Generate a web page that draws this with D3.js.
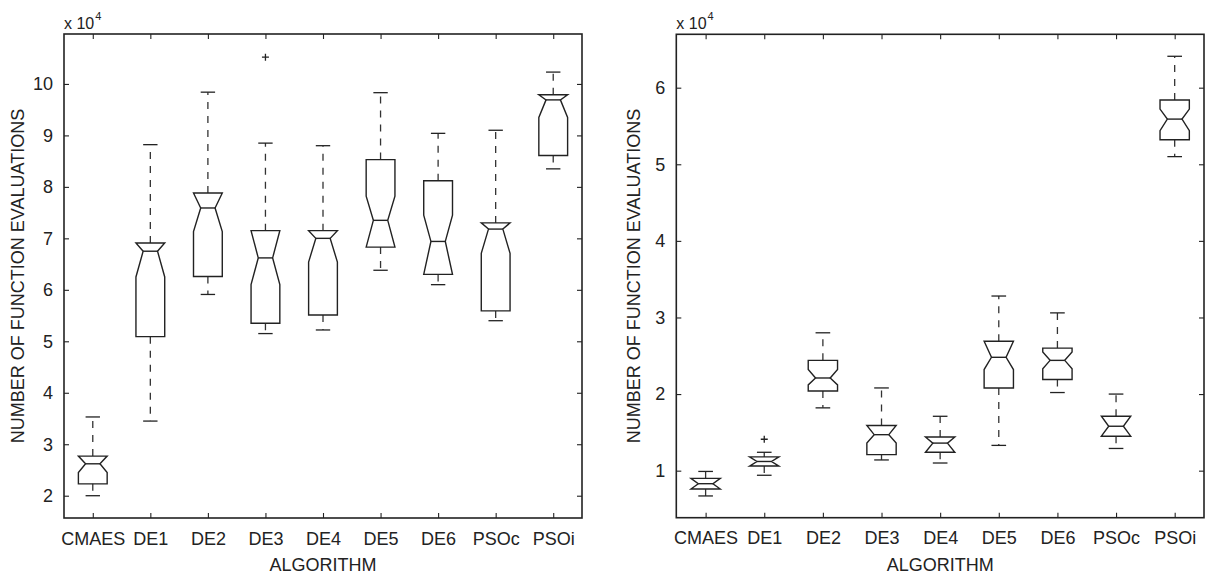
<!DOCTYPE html>
<html>
<head>
<meta charset="utf-8">
<script src="https://cdn.jsdelivr.net/npm/d3@7/dist/d3.min.js"></script>
<style>
  html, body { margin: 0; padding: 0; background: #fff; }
  svg { display: block; }
  text { font-family: "Liberation Sans", Arial, sans-serif; fill: #222; }
  .expo { font-size: 16px; }
  .expo .sup { font-size: 11px; }
</style>
</head>
<body>
<svg id="chart" width="1209" height="578"></svg>
<script>
// ---- Data (values in units of 10^4 function evaluations) ----
const categories = ["CMAES", "DE1", "DE2", "DE3", "DE4", "DE5", "DE6", "PSOc", "PSOi"];

// Left panel
const leftWhiskerLo = [2.00, 3.45, 5.91, 5.15, 5.22, 6.38, 6.10, 5.40, 8.35];
const leftQ1        = [2.23, 5.09, 6.26, 5.35, 5.51, 6.83, 6.30, 5.59, 8.61];
const leftNotchLo   = [2.45, 6.25, 7.13, 6.10, 6.54, 6.83, 6.30, 6.71, 9.35];
const leftMedian    = [2.62, 6.75, 7.59, 6.62, 7.00, 7.35, 6.94, 7.18, 9.69];
const leftNotchHi   = [2.77, 6.91, 7.88, 7.15, 7.15, 7.82, 7.45, 7.30, 9.79];
const leftQ3        = [2.77, 6.91, 7.88, 7.15, 7.15, 8.53, 8.12, 7.30, 9.79];
const leftWhiskerHi = [3.53, 8.82, 9.84, 8.85, 8.80, 9.83, 9.04, 9.10, 10.23];
const leftOutliers  = [[], [], [], [10.52], [], [], [], [], []];
const leftYTicks    = [2, 3, 4, 5, 6, 7, 8, 9, 10];

// Right panel
const rightWhiskerLo = [0.67, 0.94, 1.82, 1.14, 1.10, 1.33, 2.02, 1.29, 5.10];
const rightQ1        = [0.76, 1.06, 2.04, 1.21, 1.24, 2.08, 2.19, 1.45, 5.32];
const rightNotchLo   = [0.76, 1.06, 2.12, 1.36, 1.24, 2.32, 2.33, 1.45, 5.44];
const rightMedian    = [0.83, 1.12, 2.21, 1.47, 1.36, 2.48, 2.44, 1.58, 5.59];
const rightNotchHi   = [0.90, 1.18, 2.32, 1.59, 1.44, 2.69, 2.55, 1.71, 5.72];
const rightQ3        = [0.90, 1.18, 2.44, 1.59, 1.44, 2.69, 2.60, 1.71, 5.84];
const rightWhiskerHi = [0.99, 1.24, 2.80, 2.08, 1.71, 3.28, 3.06, 2.00, 6.41];
const rightOutliers  = [[], [1.41], [], [], [], [], [], [], []];
const rightYTicks    = [1, 2, 3, 4, 5, 6];

const yLabel = "NUMBER OF FUNCTION EVALUATIONS";
const xLabel = "ALGORITHM";

// ---- Drawing ----
const svg = d3.select("#chart");
svg.append("rect").attr("width", 1209).attr("height", 578).attr("fill", "#fff");

function panel(cfg) {
  const g = svg.append("g");
  const x = d3.scaleLinear().domain([0.5, 9.5]).range([cfg.left, cfg.right]);
  const y = d3.scaleLinear().domain(cfg.yDomain).range([cfg.bottom, cfg.top]);
  const idx = d3.range(1, categories.length + 1);
  const ink = "#222";

  // axes with inward ticks
  const fs = "18px";
  const ax = g.append("g").attr("transform", `translate(0,${cfg.bottom})`)
    .call(d3.axisBottom(x).tickValues(idx).tickFormat(i => categories[i - 1]).tickSize(-5).tickPadding(14));
  ax.attr("font-size", null);
  ax.selectAll("text").style("font-size", fs).attr("fill", ink);
  const ay = g.append("g").attr("transform", `translate(${cfg.left},0)`)
    .call(d3.axisLeft(y).tickValues(cfg.yTicks).tickFormat(d3.format("d")).tickSize(-5).tickPadding(11));
  ay.attr("font-size", null);
  ay.selectAll("text").style("font-size", fs).attr("fill", ink);
  g.append("g").attr("transform", `translate(0,${cfg.top})`)
    .call(d3.axisTop(x).tickValues(idx).tickFormat("").tickSize(-5));
  g.append("g").attr("transform", `translate(${cfg.right},0)`)
    .call(d3.axisRight(y).tickValues(cfg.yTicks).tickFormat("").tickSize(-5));
  g.selectAll(".domain").remove();
  g.selectAll(".tick line").attr("stroke", ink).attr("stroke-width", 1.1);
  g.selectAll("text").style("font-family", '"Liberation Sans", Arial, sans-serif');

  // frame
  g.append("rect")
    .attr("x", cfg.left).attr("y", cfg.top)
    .attr("width", cfg.right - cfg.left).attr("height", cfg.bottom - cfg.top)
    .attr("fill", "none").attr("stroke", ink).attr("stroke-width", 1.6);

  const boxW = x(1.25) - x(0.75);
  const capW = x(1.125) - x(0.875);
  const notchIn = boxW * 0.25;
  const d = cfg.data;

  categories.forEach((c, i) => {
    const cx = x(i + 1);
    const L = cx - boxW / 2, R = cx + boxW / 2;
    const q1 = y(d.q1[i]), q3 = y(d.q3[i]);
    const med = y(d.median[i]);
    const nlo = y(Math.max(d.notchLo[i], d.q1[i]));
    const nhi = y(Math.min(d.notchHi[i], d.q3[i]));
    const wlo = y(d.wlo[i]), whi = y(d.whi[i]);

    // whiskers (dashed)
    g.append("line").attr("x1", cx).attr("x2", cx).attr("y1", q3).attr("y2", whi)
      .attr("stroke", "#333").attr("stroke-width", 1.3).attr("stroke-dasharray", "7,7");
    g.append("line").attr("x1", cx).attr("x2", cx).attr("y1", q1).attr("y2", wlo)
      .attr("stroke", "#333").attr("stroke-width", 1.3).attr("stroke-dasharray", "7,7");
    // caps
    [whi, wlo].forEach(v => g.append("line")
      .attr("x1", cx - capW / 2).attr("x2", cx + capW / 2).attr("y1", v).attr("y2", v)
      .attr("stroke", ink).attr("stroke-width", 1.3));

    // notched box
    const pts = [
      [L, q1], [L, nlo], [L + notchIn, med], [L, nhi], [L, q3],
      [R, q3], [R, nhi], [R - notchIn, med], [R, nlo], [R, q1]
    ];
    g.append("path").attr("d", d3.line()(pts) + "Z")
      .attr("fill", "none").attr("stroke", ink).attr("stroke-width", 1.4)
      .attr("stroke-linejoin", "miter");
    // median
    g.append("line").attr("x1", L + notchIn).attr("x2", R - notchIn).attr("y1", med).attr("y2", med)
      .attr("stroke", ink).attr("stroke-width", 1.4);

    // outliers '+'
    d.out[i].forEach(o => {
      const oy = y(o);
      g.append("path").attr("d", `M${cx - 3.5},${oy}H${cx + 3.5}M${cx},${oy - 3.5}V${oy + 3.5}`)
        .attr("stroke", ink).attr("stroke-width", 1.3);
    });
  });

  // exponent label
  const ex = g.append("text").attr("class", "expo").attr("x", cfg.left).attr("y", 29).attr("fill", ink);
  ex.append("tspan").text("x 10");
  ex.append("tspan").attr("class", "sup").attr("dy", -9).attr("dx", 1).text("4");

  // axis titles
  g.append("text")
    .attr("transform", `translate(${cfg.yLabelX},${(cfg.top + cfg.bottom) / 2}) rotate(-90)`)
    .attr("text-anchor", "middle").attr("dy", "0.35em")
    .style("font-size", "18px").attr("fill", ink).text(yLabel);
  g.append("text")
    .attr("x", (cfg.left + cfg.right) / 2).attr("y", 571)
    .attr("text-anchor", "middle").style("font-size", "18px").attr("fill", ink).text(xLabel);
}

panel({
  left: 64, right: 582, top: 34, bottom: 518,
  yDomain: [1.567, 10.97], yTicks: leftYTicks, yLabelX: 17.5,
  data: { wlo: leftWhiskerLo, q1: leftQ1, notchLo: leftNotchLo, median: leftMedian,
          notchHi: leftNotchHi, q3: leftQ3, whi: leftWhiskerHi, out: leftOutliers }
});
panel({
  left: 676.3, right: 1204, top: 34.3, bottom: 517.7,
  yDomain: [0.386, 6.697], yTicks: rightYTicks, yLabelX: 634,
  data: { wlo: rightWhiskerLo, q1: rightQ1, notchLo: rightNotchLo, median: rightMedian,
          notchHi: rightNotchHi, q3: rightQ3, whi: rightWhiskerHi, out: rightOutliers }
});
</script>
</body>
</html>
